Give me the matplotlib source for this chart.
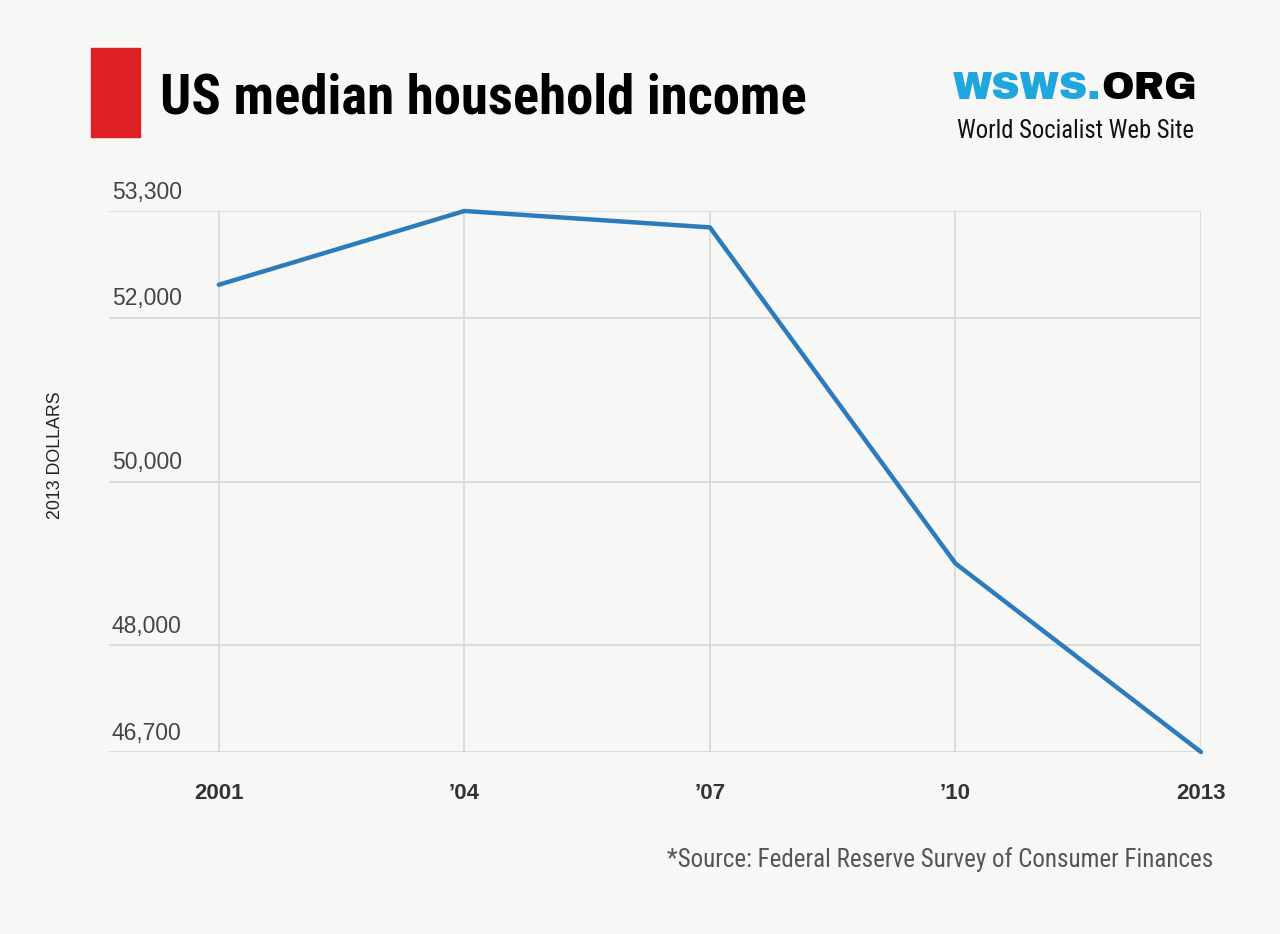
import matplotlib
matplotlib.use('Agg')
from matplotlib import pyplot as plt
from matplotlib.patches import Rectangle

# data (2013 dollars)
years = [2001, 2004, 2007, 2010, 2013]
income = [52400, 53300, 53100, 49000, 46700]
year_labels = ['2001', '\u201904', '\u201907', '\u201910', '2013']
y_ticks = [46700, 48000, 50000, 52000, 53300]
y_labels = ['46,700', '48,000', '50,000', '52,000', '53,300']

bg = '#f7f7f5'
line_col = '#2b7bbd'
grid_col = '#d9d9d9'
narrow = ['Roboto Condensed', 'Barlow Condensed', 'DejaVu Sans']
W, H = 1280, 934

fig = plt.figure(figsize=(12.8, 9.34), dpi=100, facecolor=bg)
ax = fig.add_axes([109 / W, (H - 752) / H, (1201 - 109) / W, (752 - 211) / H])
ax.set_facecolor(bg)

ax.plot(years, income, color=line_col, linewidth=3.2, clip_on=False,
        solid_capstyle='round', zorder=3)

ax.set_xlim(2001 - (219 - 109) / 82.0, 2013)
ax.set_ylim(46700, 53300)
ax.set_xticks(years)
ax.set_xticklabels(year_labels, fontweight='bold', fontsize=16,
                   family='Liberation Sans', color='#333333')
ax.set_yticks(y_ticks)
ax.set_yticklabels([])
ax.tick_params(length=0, pad=22)
ax.grid(True, color=grid_col, linewidth=1.3)
ax.set_axisbelow(True)
for s in ax.spines.values():
    s.set_visible(False)

for v, lab in zip(y_ticks, y_labels):
    ax.annotate(lab, xy=(0, v), xycoords=('axes fraction', 'data'),
                xytext=(2, 9), textcoords='offset points',
                ha='left', va='baseline', fontsize=16.5,
                family='Liberation Sans', color='#444444')

fig.text(55 / W, 1 - 455 / H, '2013 DOLLARS', rotation=90, ha='center',
         va='center', fontsize=12.8, family='Liberation Sans', color='#222222')


def fit(t, width_px):
    # scale font size so the text spans the wanted width
    fig.canvas.draw()
    w = t.get_window_extent().width
    t.set_fontsize(t.get_fontsize() * width_px / w)


# header
fig.patches.append(Rectangle((91 / W, 1 - 137 / H), 49 / W, 89 / H,
                             transform=fig.transFigure, color='#dd1f26'))
title = fig.text(160 / W, 1 - 98 / H, 'US median household income', ha='left',
                 va='center', fontsize=43, fontweight='bold', family=narrow,
                 color='black')
fit(title, 648)

logo_font = ['Archivo Black', 'DejaVu Sans']
t1 = fig.text(953 / W, 1 - 89 / H, 'WSWS.', ha='left', va='center',
              fontsize=24, fontweight='bold', family=logo_font, color='#1fa6dc')
t2 = fig.text(953 / W, 1 - 89 / H, 'WSWS.ORG', ha='left', va='center',
              fontsize=24, fontweight='bold', family=logo_font, color='none')
fit(t2, 244)
t1.set_fontsize(t2.get_fontsize())
fig.canvas.draw()
bb = t1.get_window_extent()
fig.text(bb.x1 / W, 1 - 89 / H, 'ORG', ha='left', va='center',
         fontsize=t2.get_fontsize(), fontweight='bold', family=logo_font,
         color='black')
t2.remove()

sub = fig.text(1194 / W, 1 - 131 / H, 'World Socialist Web Site', ha='right',
               va='center', fontsize=18, family=narrow, color='#111111')
fit(sub, 237)

src = fig.text(1213 / W, 1 - 860 / H,
               '*Source: Federal Reserve Survey of Consumer Finances', ha='right',
               va='center', fontsize=18.5, family=narrow, color='#555555')
fit(src, 546)

plt.savefig('out.png', dpi=100, facecolor=bg)
